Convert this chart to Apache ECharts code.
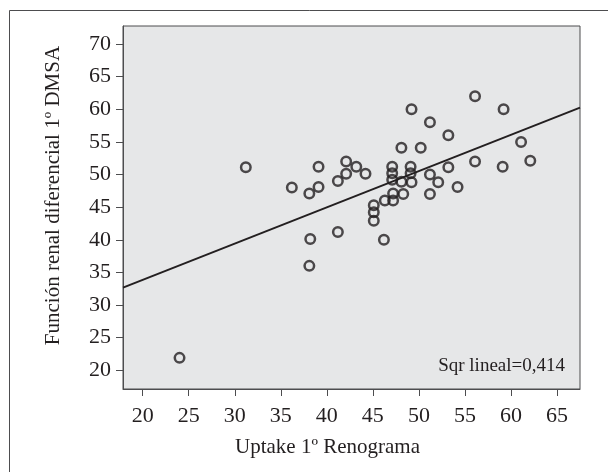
<!DOCTYPE html>
<html lang="es">
  <head>
    <meta charset="utf-8" />
    <title>Uptake vs DMSA</title>
    <script src="https://cdn.jsdelivr.net/npm/echarts@6.0.0/dist/echarts.min.js"></script>
    <style>
      html, body { margin: 0; padding: 0; background: #fff; }
      #main { width: 608px; height: 472px; }
    </style>
  </head>
  <body>
    <div id="main"></div>
    <script type="text/javascript">
      // values
      var uptake = [24.0, 31.2, 36.2, 38.1, 38.2, 38.1, 39.1, 39.1, 41.2, 41.2,
        42.1, 42.1, 43.2, 44.2, 45.1, 45.1, 45.1, 46.3, 46.2, 47.1,
        47.1, 47.1, 47.2, 47.2, 48.1, 48.1, 48.3, 49.1, 49.1, 49.2,
        49.2, 50.2, 51.2, 51.2, 51.2, 52.1, 53.2, 53.2, 54.2, 56.1,
        56.1, 59.2, 59.1, 61.1, 62.1];
      var dmsa = [21.9, 51.1, 48.0, 47.1, 40.1, 36.0, 51.2, 48.1, 49.0, 41.2,
        52.0, 50.1, 51.2, 50.1, 45.3, 44.2, 42.9, 46.0, 40.0, 51.2,
        50.2, 49.2, 47.1, 46.0, 54.1, 48.9, 47.0, 51.2, 50.2, 48.8,
        60.0, 54.1, 58.0, 50.0, 47.0, 48.8, 56.0, 51.1, 48.1, 62.0,
        52.0, 60.0, 51.2, 55.0, 52.1];

      // fitted line end points (at the plot edges)
      var fitX = [17.86, 67.5];
      var fitY = [32.67, 60.25];

      var xTicks = [20, 25, 30, 35, 40, 45, 50, 55, 60, 65];
      var yTicks = [20, 25, 30, 35, 40, 45, 50, 55, 60, 65, 70];

      var points = uptake.map(function (v, i) { return [v, dmsa[i]]; });
      var fit = fitX.map(function (v, i) { return [v, fitY[i]]; });

      var ink = "#231f20";
      var serif = "'Liberation Serif', 'DejaVu Serif', serif";

      var chart = echarts.init(document.getElementById("main"));

      var option = {
        backgroundColor: "#fff",
        animation: false,
        grid: {
          left: 123,
          top: 26,
          right: 28,
          bottom: 83,
          show: true,
          backgroundColor: "#e6e7e8",
          borderColor: "#4d4d4f",
          borderWidth: 1
        },
        xAxis: {
          type: "value",
          min: 17.86,
          max: 67.5,
          name: "Uptake 1º Renograma",
          nameLocation: "middle",
          nameGap: 48,
          nameTextStyle: {
            fontFamily: serif,
            fontSize: 21,
            color: ink,
            padding: [0, 48, 0, 0]
          },
          axisLine: { onZero: false, lineStyle: { color: "#4d4d4f", width: 1 } },
          axisTick: { show: true, length: 7, customValues: xTicks, lineStyle: { color: "#4d4d4f" } },
          axisLabel: { customValues: xTicks, margin: 16, fontFamily: serif, fontSize: 22, color: ink },
          splitLine: { show: false }
        },
        yAxis: {
          type: "value",
          min: 17.13,
          max: 72.76,
          name: "Función renal diferencial 1º DMSA",
          nameLocation: "middle",
          nameGap: 59,
          nameTextStyle: {
            fontFamily: serif,
            fontSize: 21,
            color: ink,
            padding: [0, 0, 0, 24]
          },
          axisLine: { show: true, onZero: false, lineStyle: { color: "#4d4d4f", width: 1 } },
          axisTick: { show: true, length: 7, customValues: yTicks, lineStyle: { color: "#4d4d4f" } },
          axisLabel: { customValues: yTicks, margin: 12, fontFamily: serif, fontSize: 22, color: ink },
          splitLine: { show: false }
        },
        graphic: [
          {
            type: "polyline",
            shape: { points: [[9.5, 700], [9.5, 10.5], [700, 10.5]] },
            style: { stroke: "#4d4d4f", lineWidth: 1, fill: null },
            silent: true
          },
          {
            type: "text",
            right: 43,
            top: 357,
            style: {
              text: "Sqr lineal=0,414",
              font: "19px " + serif,
              fill: ink
            }
          }
        ],
        series: [
          {
            type: "line",
            data: fit,
            symbol: "none",
            lineStyle: { color: ink, width: 2 },
            z: 2
          },
          {
            type: "scatter",
            data: points,
            symbol: "circle",
            symbolSize: 9.5,
            itemStyle: { color: "transparent", borderColor: ink, borderWidth: 2.5 },
            z: 3
          }
        ]
      };

      chart.setOption(option);
    </script>
  </body>
</html>
